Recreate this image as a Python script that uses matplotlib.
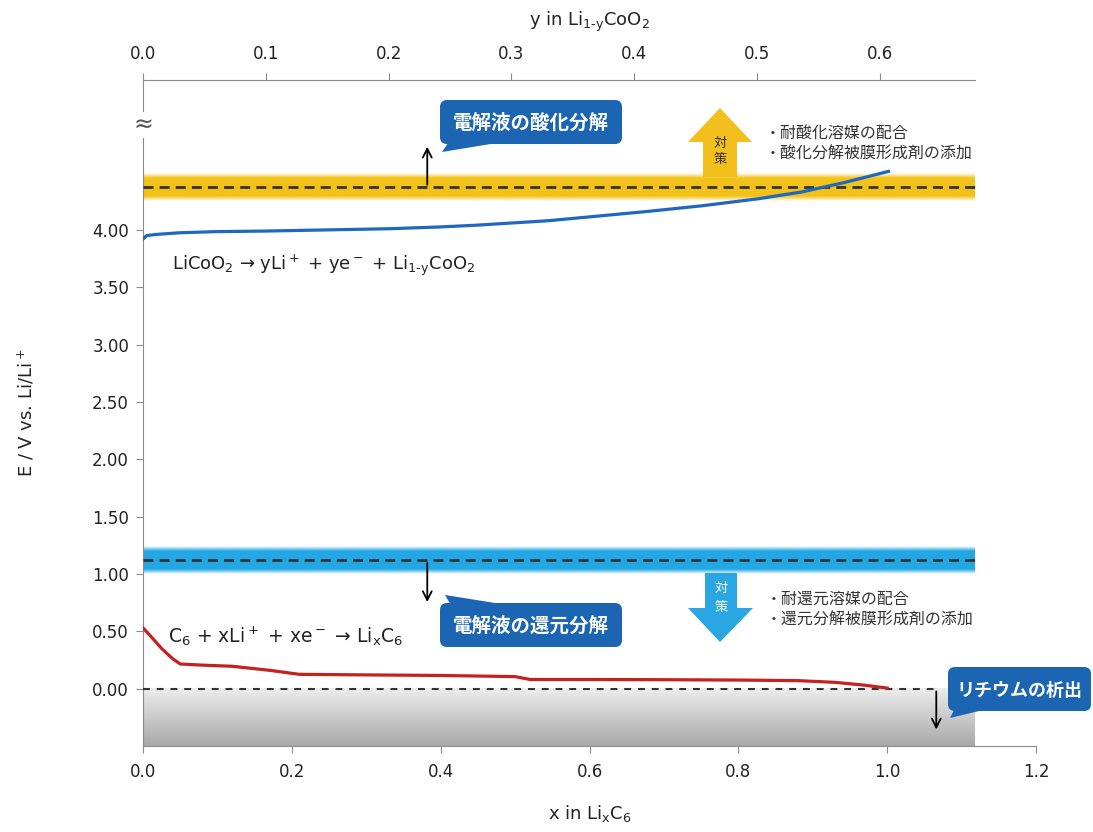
import numpy as np
import matplotlib
matplotlib.use("Agg")
import matplotlib.pyplot as plt
from matplotlib.patches import FancyBboxPatch, Polygon
from matplotlib.transforms import Affine2D

plt.rcParams['font.family'] = ['DejaVu Sans', 'Noto Sans CJK JP']
plt.rcParams['mathtext.default'] = 'regular'
JP = ['Noto Sans CJK JP', 'DejaVu Sans']

# positive electrode: E vs y in Li(1-y)CoO2
y_lco = [0.0, 0.003, 0.01, 0.03, 0.06, 0.1, 0.15, 0.2, 0.24, 0.27, 0.3,
         0.33, 0.37, 0.41, 0.455, 0.5, 0.536, 0.57, 0.607]
E_lco = [3.92, 3.95, 3.96, 3.975, 3.985, 3.99, 4.0, 4.01, 4.025, 4.04, 4.06,
         4.08, 4.12, 4.16, 4.21, 4.27, 4.33, 4.41, 4.51]

# negative electrode: E vs x in LixC6
x_c = [0.0, 0.01, 0.025, 0.04, 0.05, 0.08, 0.12, 0.17, 0.21, 0.3, 0.4, 0.5,
       0.52, 0.6, 0.7, 0.8, 0.88, 0.93, 0.97, 1.0]
E_c = [0.53, 0.46, 0.35, 0.26, 0.215, 0.205, 0.195, 0.16, 0.125, 0.12, 0.115,
       0.105, 0.08, 0.08, 0.078, 0.075, 0.07, 0.055, 0.03, 0.005]

E_ox = 4.37      # oxidation limit of electrolyte
E_red = 1.12     # reduction limit of electrolyte
E_li = 0.0       # Li deposition
band_end = 1.118

y_ticks = [0.0, 0.5, 1.0, 1.5, 2.0, 2.5, 3.0, 3.5, 4.0]
x_ticks = [0.0, 0.2, 0.4, 0.6, 0.8, 1.0, 1.2]
top_ticks = [0.0, 0.1, 0.2, 0.3, 0.4, 0.5, 0.6]

W, H = 1093, 832
fig = plt.figure(figsize=(W / 100, H / 100), dpi=100)
ax = fig.add_axes([143 / W, 1 - 746 / H, (1036 - 143) / W, (746 - 80) / H])
px = Affine2D().scale(1 / W, -1 / H).translate(0, 1) + fig.transFigure

spine_c = '#8c8c8c'
text_c = '#222222'

ax.set_xlim(0, 1.2)
ax.set_ylim(-0.5, 5.307)

# gray Li deposition region
grad = np.linspace(0, 1, 100)[:, None]
c_top = np.array([0.93, 0.93, 0.93])
c_bot = np.array([0.66, 0.66, 0.66])
img = c_top + (c_bot - c_top) * grad[:, :, None]
img = np.repeat(img, 2, axis=1)
ax.imshow(img, extent=[0, band_end, -0.5, E_li], aspect='auto', zorder=1,
          interpolation='bilinear', origin='upper')


def band(center, color):
    t = np.linspace(-1, 1, 200)
    a = np.clip((1 - np.abs(t)) / 0.35, 0, 1)
    rgba = np.zeros((200, 2, 4))
    rgba[:, :, :3] = matplotlib.colors.to_rgb(color)
    rgba[:, :, 3] = a[:, None]
    ax.imshow(rgba, extent=[0, band_end, center - 0.12, center + 0.12],
              aspect='auto', zorder=1, interpolation='bilinear')
    ax.plot([0, band_end], [center, center], color='#333333', lw=2,
            dashes=(3.6, 2.2), zorder=3)


band(E_ox, '#f3c21a')
band(E_red, '#22a8e4')
ax.plot([0, 1.066], [E_li, E_li], color='#333333', lw=1.5,
        dashes=(3.3, 3.3), zorder=3)
ax.set_xlim(0, 1.2)
ax.set_ylim(-0.5, 5.307)

ax.plot(x_c, E_c, color='#c4211f', lw=2.3, zorder=4)

# axes styling
for s in ['top', 'right']:
    ax.spines[s].set_visible(False)
for s in ['left', 'bottom']:
    ax.spines[s].set_color(spine_c)
ax.set_yticks(y_ticks)
ax.set_yticklabels(['%.2f' % v for v in y_ticks])
ax.set_xticks(x_ticks)
ax.set_xticklabels(['%.1f' % v for v in x_ticks])
ax.tick_params(colors=spine_c, labelcolor=text_c, labelsize=12, length=5,
               pad=7)
ax.tick_params(axis='y', pad=5)
ax.set_xlabel('x in Li$_x$C$_6$', fontsize=13, color=text_c, labelpad=16)
ax.set_ylabel('E / V vs. Li/Li$^+$', fontsize=13, color=text_c, labelpad=40)

# top axis
top = ax.twiny()
top.set_xlim(0, (1036 - 143) / 1228)
top.set_ylim(ax.get_ylim())
for s in ['bottom', 'right', 'left']:
    top.spines[s].set_visible(False)
top.spines['top'].set_color(spine_c)
top.spines['top'].set_bounds(0, (975 - 143) / 1228)
top.set_xticks(top_ticks)
top.set_xticklabels(['%.1f' % v for v in top_ticks])
top.tick_params(colors=spine_c, labelcolor=text_c, labelsize=12, length=5,
                pad=7)
top.set_xlabel('y in Li$_{1\u2010y}$CoO$_2$', fontsize=13, color=text_c,
               labelpad=14)
top.plot(y_lco, E_lco, color='#1f67c0', lw=2.3, zorder=4)

# axis break mark
ax.text(0, 4.915, '≈', fontsize=17, ha='center', va='center', color='#555555',
        bbox=dict(fc='white', ec='none', pad=0.5), zorder=6, clip_on=False)

# reaction equations
ax.text(172, 265, 'LiCoO$_2$ → yLi$^+$ + ye$^-$ + Li$_{1\u2010y}$CoO$_2$',
        transform=px, fontsize=13, color=text_c, va='center')
ax.text(168, 636, 'C$_6$ + xLi$^+$ + xe$^-$ → Li$_x$C$_6$',
        transform=px, fontsize=13.5, color=text_c, va='center')

# thin arrows from the limit lines
arr = dict(arrowstyle='->', lw=1.3, color='black', mutation_scale=16)
ax.annotate('', xy=(0.382, 4.75), xytext=(0.382, E_ox), arrowprops=arr,
            zorder=5)
ax.annotate('', xy=(0.382, 0.73), xytext=(0.382, E_red), arrowprops=arr,
            zorder=5)
ax.annotate('', xy=(1.066, -0.38), xytext=(1.066, E_li), arrowprops=arr,
            zorder=5, annotation_clip=False)

# callouts
box_c = '#1b65b3'


def callout(x0, y0, x1, y1, tail, label, fs):
    fig.add_artist(FancyBboxPatch((x0, y0), x1 - x0, y1 - y0,
                                  boxstyle='round,pad=0,rounding_size=7',
                                  fc=box_c, ec='none', transform=px))
    fig.add_artist(Polygon(tail, closed=True, fc=box_c, ec='none',
                           transform=px))
    fig.text((x0 + x1) / 2, (y0 + y1) / 2 + 1, label, transform=px,
             fontsize=fs, color='white', fontweight='bold', family=JP,
             ha='center', va='center')


callout(440, 100, 622, 144, [(450, 140), (442, 152), (515, 140)],
        '電解液の酸化分解', 14)
callout(440, 603, 622, 647, [(452, 607), (445, 595), (520, 607)],
        '電解液の還元分解', 14)
callout(948, 667, 1091, 711, [(956, 706), (950, 718), (1000, 706)],
        'リチウムの析出', 13)

# countermeasure arrows
up = [(703, 177), (703, 142), (688, 142), (720, 108), (752, 142),
      (737, 142), (737, 177)]
fig.add_artist(Polygon(up, closed=True, fc='#f3bf1c', ec='none',
                       transform=px))
dn = [(705, 573), (705, 608), (688, 608), (720, 642), (753, 608),
      (737, 608), (737, 573)]
fig.add_artist(Polygon(dn, closed=True, fc='#2aa7e2', ec='none',
                       transform=px))
for yy, ch in [(143, '対'), (160, '策')]:
    fig.text(720, yy, ch, transform=px, fontsize=9.5, family=JP,
             color='#333333', ha='center', va='center')
for yy, ch in [(588, '対'), (608, '策')]:
    fig.text(721, yy, ch, transform=px, fontsize=9.5, family=JP,
             color='white', ha='center', va='center')

note_c = '#333333'
fig.text(765, 133, '・耐酸化溶媒の配合', transform=px, fontsize=11.5,
         family=JP, color=note_c, va='center')
fig.text(765, 154, '・酸化分解被膜形成剤の添加', transform=px, fontsize=11.5,
         family=JP, color=note_c, va='center')
fig.text(766, 599, '・耐還元溶媒の配合', transform=px, fontsize=11.5,
         family=JP, color=note_c, va='center')
fig.text(766, 620, '・還元分解被膜形成剤の添加', transform=px, fontsize=11.5,
         family=JP, color=note_c, va='center')

fig.savefig('out.png', dpi=100)
